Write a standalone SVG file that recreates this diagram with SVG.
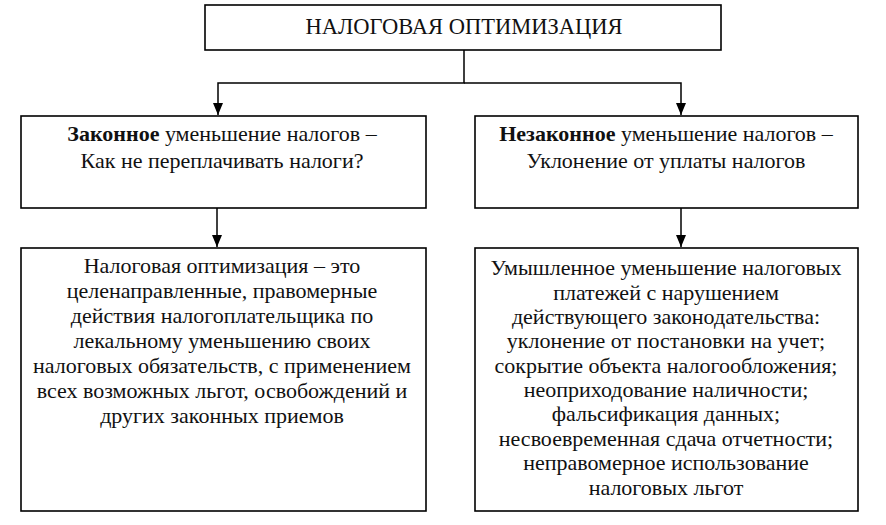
<svg xmlns="http://www.w3.org/2000/svg" width="886" height="525" viewBox="0 0 886 525">
<defs>
<marker id="arr" markerWidth="12" markerHeight="10" refX="12" refY="5" orient="auto" markerUnits="userSpaceOnUse" viewBox="0 0 12 10">
<path d="M0,0 L12,5 L0,10 Z" fill="#000"/>
</marker>
<style>
.box{fill:#fff;stroke:#000;stroke-width:1.6}
.t{font-size:22px;fill:#111;text-anchor:middle}
.h{font-size:22.5px}
.c{fill:none;stroke:#000;stroke-width:1.5}
</style>
</defs>
<rect width="886" height="525" fill="#fff"/>
<g id="connectors">
<polyline class="c" points="464,50 464,83 218,83 218,115" marker-end="url(#arr)"/>
<polyline class="c" points="464,83 681,83 681,115" marker-end="url(#arr)"/>
<line class="c" x1="217" y1="208" x2="217" y2="247" marker-end="url(#arr)"/>
<line class="c" x1="681" y1="208" x2="681" y2="247" marker-end="url(#arr)"/>
</g>
<g font-family="Liberation Serif, Times New Roman, serif">
<g id="top">
<rect class="box" x="205" y="5" width="516" height="45"/>
<text class="t h" x="464" y="34">НАЛОГОВАЯ ОПТИМИЗАЦИЯ</text>
</g>
<g id="legal">
<rect class="box" x="21" y="116" width="405" height="92"/>
<text class="t" x="222" y="141"><tspan font-weight="bold">Законное</tspan> уменьшение налогов –</text>
<text class="t" x="222" y="168">Как не переплачивать налоги?</text>
</g>
<g id="illegal">
<rect class="box" x="475" y="116" width="383" height="92"/>
<text class="t" x="666" y="141"><tspan font-weight="bold">Незаконное</tspan> уменьшение налогов –</text>
<text class="t" x="666" y="168">Уклонение от уплаты налогов</text>
</g>
<g id="legal-def">
<rect class="box" x="21" y="248" width="405" height="263"/>
<text class="t" x="222" y="273">Налоговая оптимизация – это</text>
<text class="t" x="222" y="298">целенаправленные, правомерные</text>
<text class="t" x="222" y="323">действия налогоплательщика по</text>
<text class="t" x="222" y="348">лекальному уменьшению своих</text>
<text class="t" x="222" y="373">налоговых обязательств, с применением</text>
<text class="t" x="222" y="398">всех возможных льгот, освобождений и</text>
<text class="t" x="222" y="423">других законных приемов</text>
</g>
<g id="illegal-def">
<rect class="box" x="475" y="248" width="383" height="263"/>
<text class="t" x="666" y="275">Умышленное уменьшение налоговых</text>
<text class="t" x="666" y="299.5">платежей с нарушением</text>
<text class="t" x="666" y="324">действующего законодательства:</text>
<text class="t" x="666" y="348">уклонение от постановки на учет;</text>
<text class="t" x="666" y="372.5">сокрытие объекта налогообложения;</text>
<text class="t" x="666" y="397">неоприходование наличности;</text>
<text class="t" x="666" y="421">фальсификация данных;</text>
<text class="t" x="666" y="446">несвоевременная сдача отчетности;</text>
<text class="t" x="666" y="470">неправомерное использование</text>
<text class="t" x="666" y="495">налоговых льгот</text>
</g>
</g>
</svg>
